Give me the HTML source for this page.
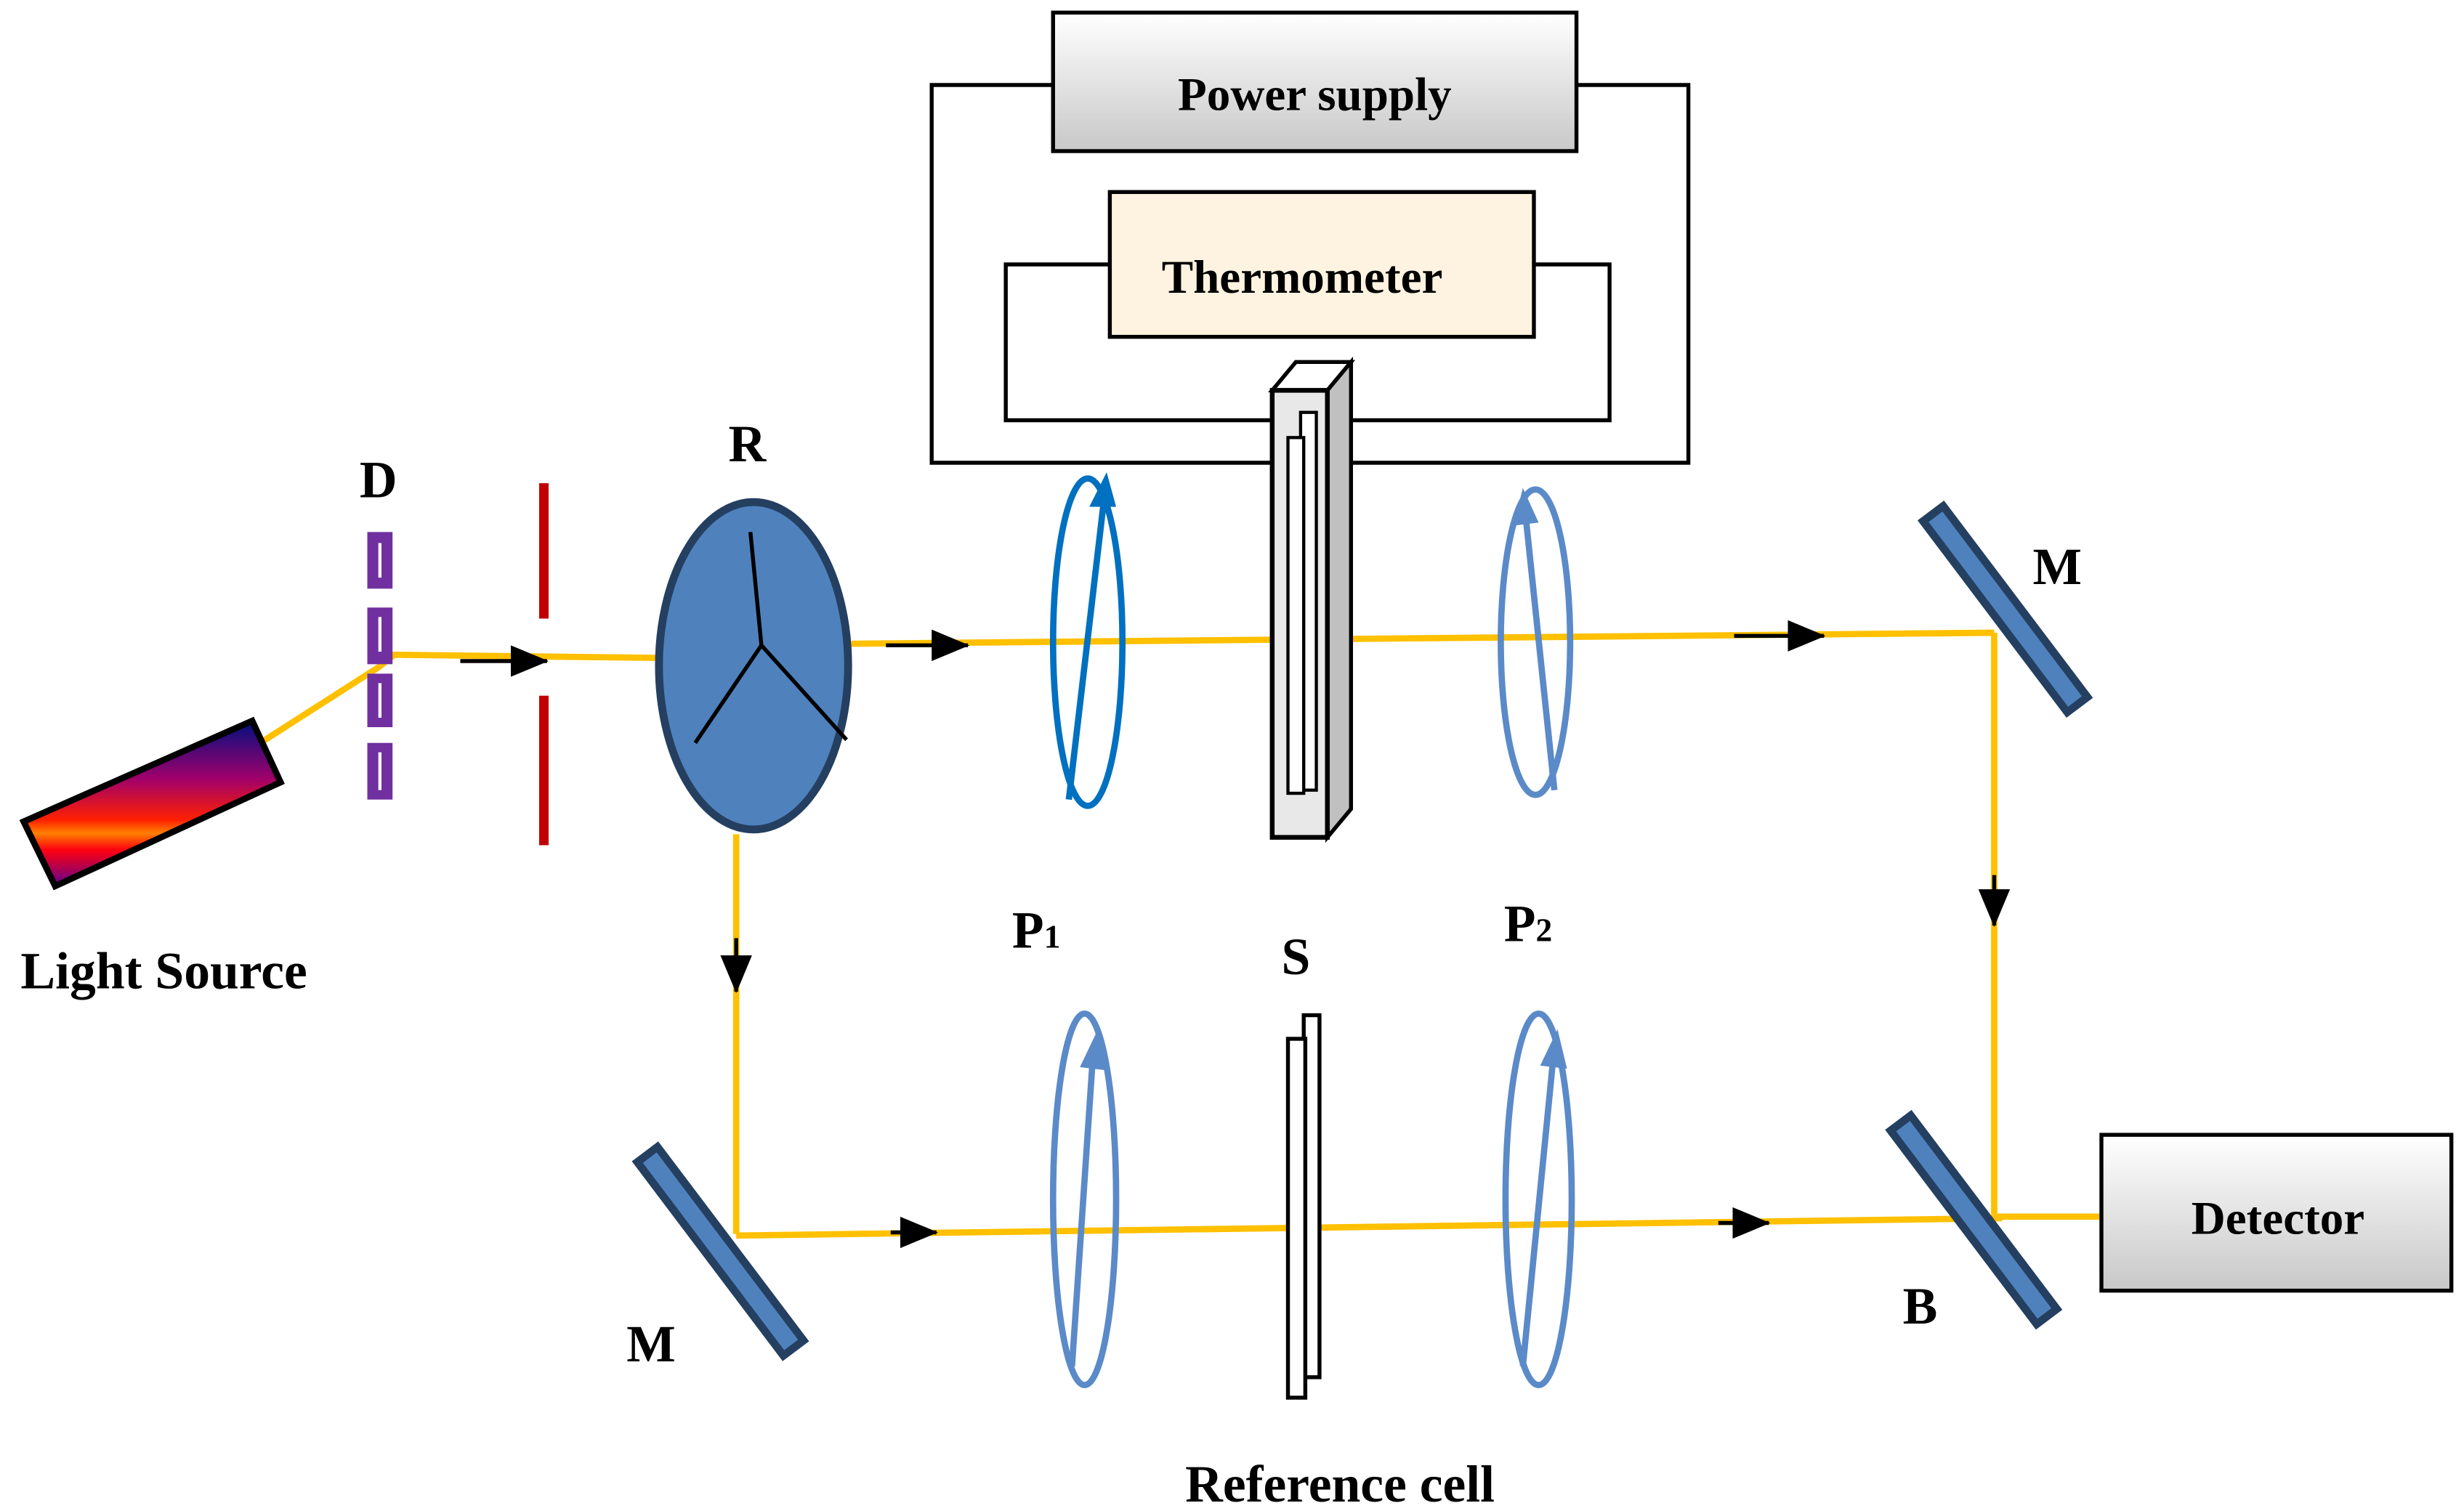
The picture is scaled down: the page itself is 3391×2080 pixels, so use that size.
<!DOCTYPE html>
<html><head><meta charset="utf-8"><style>
html,body{margin:0;padding:0;background:#fff;width:3391px;height:2080px;overflow:hidden}
svg{display:block}
text{font-family:"Liberation Serif",serif;font-weight:bold;fill:#000}
</style></head><body>
<svg width="3391" height="2080" viewBox="0 0 1563 960" preserveAspectRatio="none" xmlns="http://www.w3.org/2000/svg">
<defs>
<linearGradient id="gb" x1="0" y1="0" x2="0" y2="1"><stop offset="0" stop-color="#ffffff"/><stop offset="1" stop-color="#c8c8c8"/></linearGradient>
<linearGradient id="ls" x1="0" y1="0" x2="0" y2="1"><stop offset="0" stop-color="#001080"/><stop offset="0.35" stop-color="#a0006a"/><stop offset="0.6" stop-color="#ff2000"/><stop offset="0.68" stop-color="#ff8000"/><stop offset="0.78" stop-color="#ff0010"/><stop offset="1" stop-color="#600090"/></linearGradient>
<marker id="ah" markerWidth="24" markerHeight="20" refX="23" refY="10" orient="auto" markerUnits="userSpaceOnUse"><path d="M0,0 L24,10 L0,20 z" fill="#000"/></marker>
</defs>
<polyline points="668,54 591,54 591,294 1071,294 1071,54 1000,54" fill="none" stroke="#000" stroke-width="2.5"/>
<polyline points="704,168 638,168 638,267 1021,267 1021,168 973,168" fill="none" stroke="#000" stroke-width="2.5"/>
<rect x="668" y="8" width="332" height="88" fill="url(#gb)" stroke="#000" stroke-width="2.5"/>
<text x="834" y="70" font-size="30" text-anchor="middle">Power supply</text>
<rect x="704" y="122" width="269" height="92" fill="#fdf3e0" stroke="#000" stroke-width="2.5"/>
<text x="826" y="186" font-size="30" text-anchor="middle">Thermometer</text>
<g stroke="#ffc000" stroke-width="4" fill="none">
<polyline points="162,474 240,424 250,416 418,418"/>
<line x1="540" y1="409" x2="1265" y2="402"/>
<line x1="1265" y1="402" x2="1265" y2="772"/>
<line x1="1265" y1="773" x2="1333" y2="773"/>
<line x1="467" y1="530" x2="467" y2="784"/>
<line x1="467" y1="785" x2="1270" y2="774"/>
</g>
<polygon points="15,522 160,458 178,497 35,563" fill="url(#ls)" stroke="#000" stroke-width="4"/>
<g fill="#7030a0"><rect x="233" y="338" width="16" height="36"/><rect x="233" y="386" width="16" height="36"/><rect x="233" y="428" width="16" height="34"/><rect x="233" y="472" width="16" height="36"/></g>
<g stroke="#fff" stroke-width="2"><line x1="241" y1="345" x2="241" y2="367"/><line x1="241" y1="392" x2="241" y2="414"/><line x1="241" y1="434" x2="241" y2="456"/><line x1="241" y1="478" x2="241" y2="502"/></g>
<g fill="#c00000"><rect x="342" y="307" width="6" height="86"/><rect x="342" y="442" width="6" height="95"/></g>
<ellipse cx="478" cy="423" rx="60" ry="104" fill="#4f81bd" stroke="#243f60" stroke-width="5"/>
<g stroke="#000" stroke-width="2.5"><line x1="476" y1="338" x2="483" y2="410"/><line x1="483" y1="410" x2="441" y2="472"/><line x1="483" y1="410" x2="537" y2="470"/></g>
<polygon points="807,248 822,230 857,230 842,248" fill="#fff" stroke="#000" stroke-width="2.5"/>
<polygon points="842,248 857,230 857,514 842,532" fill="#c0c0c0" stroke="#000" stroke-width="2.5"/>
<rect x="807" y="248" width="35" height="284" fill="#e8e8e8" stroke="#000" stroke-width="3"/>
<rect x="825" y="262" width="10" height="240" fill="#fff" stroke="#000" stroke-width="2"/>
<rect x="817" y="278" width="10" height="226" fill="#fff" stroke="#000" stroke-width="2"/>
<g fill="none" stroke-width="4">
<ellipse cx="690" cy="408" rx="22" ry="104" stroke="#0070c0"/>
<ellipse cx="974" cy="408" rx="22" ry="97" stroke="#5b8ac8"/>
<ellipse cx="688" cy="762" rx="20" ry="118" stroke="#5b8ac8"/>
<ellipse cx="976" cy="762" rx="21" ry="118" stroke="#5b8ac8"/>
</g>
<g stroke-width="4">
<line x1="678" y1="508" x2="700" y2="320" stroke="#0070c0"/><polygon points="691,322 708,322 702,300" fill="#0070c0"/>
<line x1="986" y1="502" x2="968" y2="330" stroke="#5b8ac8"/><polygon points="960,334 976,332 966,310" fill="#5b8ac8"/>
<line x1="680" y1="868" x2="693" y2="675" stroke="#5b8ac8"/><polygon points="685,678 702,680 696,655" fill="#5b8ac8"/>
<line x1="966" y1="868" x2="985" y2="675" stroke="#5b8ac8"/><polygon points="977,677 994,679 988,654" fill="#5b8ac8"/>
</g>
<rect x="827" y="645" width="10" height="230" fill="#fff" stroke="#000" stroke-width="2.5"/>
<rect x="817" y="660" width="11" height="228" fill="#fff" stroke="#000" stroke-width="2.5"/>
<g fill="#4f81bd" stroke="#243f60" stroke-width="5">
<rect x="-8" y="-76" width="16" height="152" transform="translate(1272,387) rotate(-37)"/>
<rect x="-8" y="-77" width="16" height="154" transform="translate(457,795) rotate(-37)"/>
<rect x="-8" y="-77" width="16" height="154" transform="translate(1252,775) rotate(-37)"/>
</g>
<rect x="1333" y="721" width="222" height="99" fill="url(#gb)" stroke="#000" stroke-width="2.5"/>
<text x="1445" y="784" font-size="30" text-anchor="middle">Detector</text>
<g stroke="#000" stroke-width="2.5" marker-end="url(#ah)">
<line x1="292" y1="420" x2="347" y2="420"/>
<line x1="562" y1="410" x2="614" y2="410"/>
<line x1="1100" y1="404" x2="1157" y2="404"/>
<line x1="1265" y1="556" x2="1265" y2="588"/>
<line x1="467" y1="596" x2="467" y2="630"/>
<line x1="565" y1="783" x2="594" y2="783"/>
<line x1="1090" y1="777" x2="1122" y2="777"/>
</g>
<g font-size="33">
<text x="240" y="316" text-anchor="middle">D</text>
<text x="474" y="293" text-anchor="middle">R</text>
<text x="1305" y="371" text-anchor="middle">M</text>
<text x="642" y="602">P<tspan font-size="21">1</tspan></text>
<text x="822" y="619" text-anchor="middle">S</text>
<text x="954" y="598">P<tspan font-size="21">2</tspan></text>
<text x="413" y="865" text-anchor="middle">M</text>
<text x="1218" y="841" text-anchor="middle">B</text>
<text x="104" y="628" text-anchor="middle">Light Source</text>
<text x="850" y="954" text-anchor="middle">Reference cell</text>
</g>
</svg>
</body></html>
